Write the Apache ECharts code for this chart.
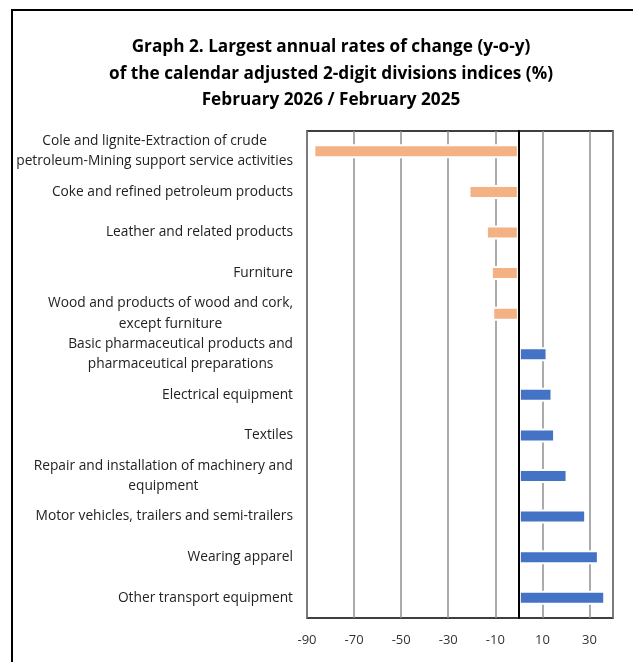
<!DOCTYPE html>
<html>
<head>
<meta charset="utf-8">
<script src="https://cdn.jsdelivr.net/npm/echarts@6/dist/echarts.min.js"></script>
<style>
html,body{margin:0;padding:0;background:#fff;}
#chart{width:633px;height:662px;}
</style>
</head>
<body>
<div id="chart"></div>
<script>
const titleLines = [
  'Graph 2. Largest annual rates of change (y-o-y)',
  'of the calendar adjusted 2-digit divisions indices (%)',
  'February 2026 / February 2025'
];
const categories = [
  'Cole and lignite-Extraction of crude\npetroleum-Mining support service activities',
  'Coke and refined petroleum products',
  'Leather and related products',
  'Furniture',
  'Wood and products of wood and cork,\nexcept furniture',
  'Basic pharmaceutical products and\npharmaceutical preparations',
  'Electrical equipment',
  'Textiles',
  'Repair and installation of machinery and\nequipment',
  'Motor vehicles, trailers and semi-trailers',
  'Wearing apparel',
  'Other transport equipment'
];
const values = [-87.3, -21.4, -14.0, -11.9, -11.3, 12.2, 14.3, 15.4, 20.7, 28.6, 34.0, 36.7];
const tickLabels = ['-90', '-70', '-50', '-30', '-10', '10', '30'];

const FONT = 'Open Sans';
const chart = echarts.init(document.getElementById('chart'));
chart.setOption({
  animation: false,
  backgroundColor: '#fff',
  title: {
    text: titleLines.join('\n'),
    left: 326,
    textAlign: 'center',
    top: 29,
    textStyle: { fontFamily: FONT, fontWeight: 'bold', fontSize: 17.2, lineHeight: 26.5, color: '#000' }
  },
  graphic: [{
    type: 'rect',
    shape: { x: 12, y: 10, width: 640, height: 700 },
    style: { fill: null, stroke: '#000', lineWidth: 2 },
    silent: true
  }],
  grid: {
    left: 307, right: 20, top: 131, bottom: 44,
    show: true, borderColor: '#000', borderWidth: 1.5, backgroundColor: 'transparent'
  },
  xAxis: {
    type: 'value',
    min: -90, max: 40, interval: 20,
    axisLine: { show: false },
    axisTick: { show: false },
    splitLine: { show: true, lineStyle: { color: '#8f8f8f', width: 1.5 } },
    axisLabel: {
      margin: 16,
      fontFamily: FONT, fontSize: 13, color: '#333',
      formatter: function (v) { const s = String(v); return tickLabels.indexOf(s) >= 0 ? s : ''; }
    }
  },
  yAxis: {
    type: 'category',
    inverse: true,
    data: categories,
    z: 10,
    axisLine: { show: true, onZero: true, lineStyle: { color: '#000', width: 2 } },
    axisTick: { show: false },
    axisLabel: {
      margin: 14,
      fontFamily: FONT, fontSize: 13.75, color: '#222', lineHeight: 20.5,
      formatter: function (v) {
        return v.split('\n').map(function (l) { return '{c|' + l + '}'; }).join('\n');
      },
      rich: { c: { align: 'center', fontFamily: FONT, fontSize: 13.75, lineHeight: 20.5, color: '#222' } }
    }
  },
  series: [{
    type: 'bar',
    data: values,
    barWidth: 14,
    itemStyle: {
      borderColor: '#fff', borderWidth: 2,
      color: function (p) { return p.value < 0 ? '#F4B183' : '#4472C4'; }
    }
  }]
});
</script>
</body>
</html>
